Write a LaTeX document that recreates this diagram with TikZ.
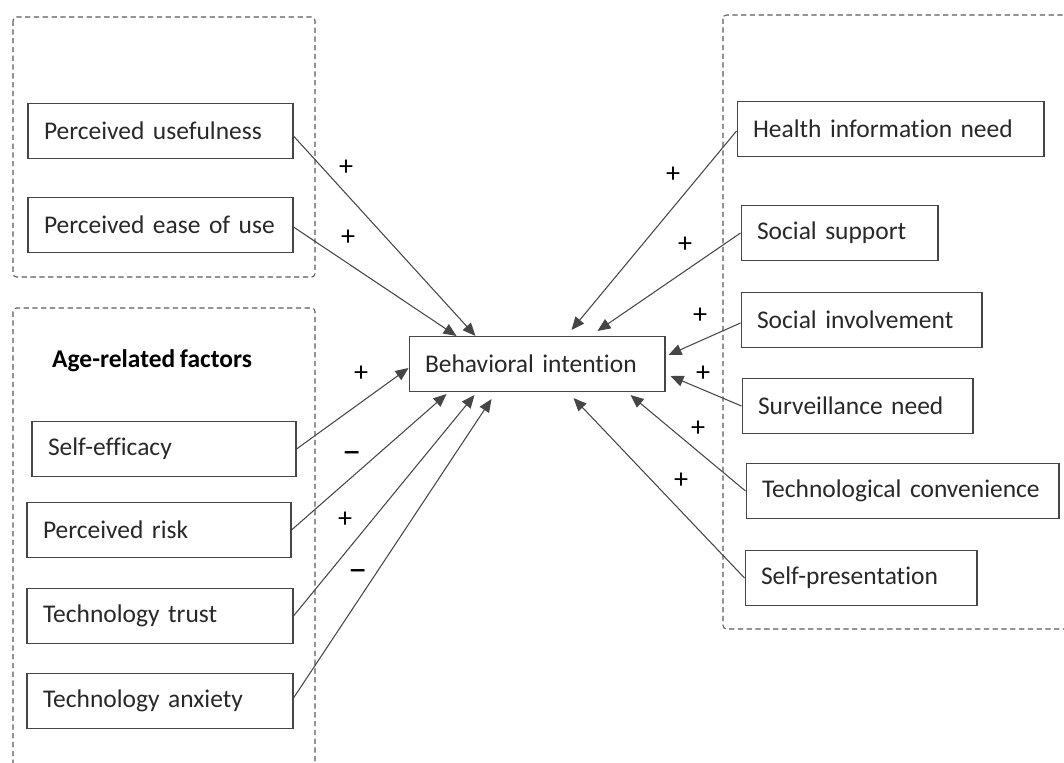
\documentclass[tikz,border=0pt]{standalone}
\usepackage{fontspec}
\setmainfont{Carlito}[Ligatures=NoCommon, WordSpace=0.8]
\usepackage{tikz}
\usetikzlibrary{positioning,arrows.meta,calc}
\definecolor{linegray}{RGB}{70,70,70}
\definecolor{textgray}{RGB}{40,40,40}
\definecolor{dashgray}{RGB}{90,90,90}

\begin{document}
\begin{tikzpicture}[
  x=0.02cm, y=-0.02cm,
  factor/.style={draw=linegray, line width=0.6pt, minimum height=1.1cm, inner xsep=0.32cm,
                 text width=#1, align=left, font=\fontsize{14.5}{17}\selectfont, text=textgray},
  group/.style={draw=dashgray, dash pattern=on 3pt off 2pt, line width=0.6pt, rounded corners=2pt},
  sign/.style={font=\fontsize{16}{18}\selectfont, text=black, inner sep=1pt},
  neg/.style={sign, font=\fontsize{22}{24}\selectfont},
  arr/.style={-{Triangle[length=2.6mm, width=2.2mm]}, linegray, line width=0.6pt},
]
\useasboundingbox (0,0) rectangle (1064,762);
\clip (0,0) rectangle (1064,762);

% Dashed groups
\draw[group] (13,17) rectangle (315,277);
\draw[group] (13,308) rectangle (315,800);
\draw[group] (723,15) rectangle (1100,629);

% Left factors
\node[factor=4.66cm] (pu)   at (160.5,131) {Perceived usefulness};
\node[factor=4.66cm] (peou) at (160.5,225) {Perceived ease of use};
\node[anchor=west, font=\fontsize{14.5}{17}\selectfont\bfseries, text=black] (age) at (46,361) {Age-related factors};
\node[factor=4.64cm] (se)   at (164,449) {Self-efficacy};
\node[factor=4.64cm] (pr)   at (159,530) {Perceived risk};
\node[factor=4.68cm] (tt)   at (160,616) {Technology trust};
\node[factor=4.68cm] (ta)   at (160,701) {Technology anxiety};

% Centre
\node[factor=4.48cm] (bi) at (537,364) {Behavioral intention};

% Right factors
\node[factor=5.5cm]  (hin) at (890.5,129) {Health information need};
\node[factor=3.3cm]  (ss)  at (839.5,233) {Social support};
\node[factor=4.18cm] (si)  at (861.5,320) {Social involvement};
\node[factor=3.98cm] (sn)  at (857.5,406) {Surveillance need};
\node[factor=5.62cm] (tc)  at (902.5,491) {Technological convenience};
\node[factor=4.0cm]  (sp)  at (861,578) {Self-presentation};

% Arrows
\draw[arr] ($(pu.east)+(0,5)$)   -- ($(bi.north west)+(67,0)$);
\draw[arr] ($(peou.east)+(0,2)$) -- ($(bi.north west)+(48,0)$);
\draw[arr] (se.east)             -- ($(bi.west)+(0,4)$);
\draw[arr] (pr.east)             -- ($(bi.south west)+(38,2)$);
\draw[arr] (tt.east)             -- ($(bi.south west)+(66,3)$);
\draw[arr] ($(ta.east)+(0,-3)$)  -- ($(bi.south west)+(83,7)$);
\draw[arr] ($(hin.west)+(0,2)$)  -- ($(bi.north west)+(163,-6)$);
\draw[arr] (ss.west)             -- ($(bi.north west)+(189,-5)$);
\draw[arr] ($(si.west)+(0,3)$)   -- ($(bi.north east)+(3,19)$);
\draw[arr] (sn.west)             -- ($(bi.east)+(5,12)$);
\draw[arr] (tc.west)             -- ($(bi.south east)+(-35,3)$);
\draw[arr] (sp.west)             -- ($(bi.south west)+(165,6)$);

% Signs
\node[sign] (s1)  at (346,168) {+};
\node[sign] (s2)  at (348,238) {+};
\node[sign] (s3)  at (361,374) {+};
\node[neg]  (s4)  at (352,458) {--};
\node[sign] (s5)  at (345,520) {+};
\node[neg]  (s6)  at (358,575) {--};
\node[sign] (s7)  at (673,175) {+};
\node[sign] (s8)  at (685,245) {+};
\node[sign] (s9)  at (700,316) {+};
\node[sign] (s10) at (703,374) {+};
\node[sign] (s11) at (698,429) {+};
\node[sign] (s12) at (681,481) {+};

\end{tikzpicture}
\end{document}
